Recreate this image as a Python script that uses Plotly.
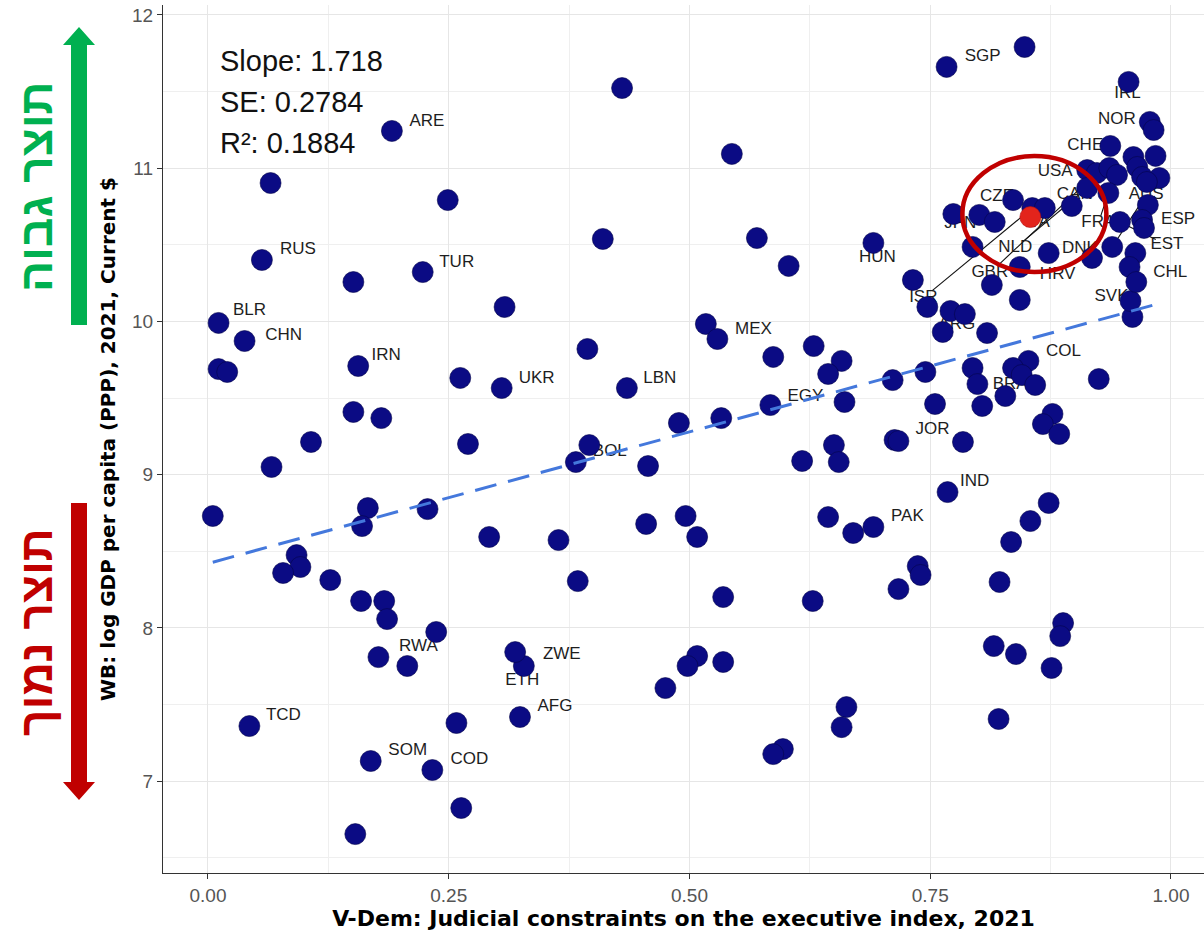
import math
import plotly.graph_objects as go

# ---------------------------------------------------------------------------
# Data: judicial constraints index (V-Dem) vs log GDP per capita (WB), 2021
# (unlabelled countries carry an empty code)
# ---------------------------------------------------------------------------
country = [
    "ARE", "", "", "RUS", "", "TUR", "", "BLR", "CHN", "",        # 0-9
    "", "IRN", "", "UKR", "", "", "", "", "", "",                 # 10-19
    "", "", "", "", "", "", "BOL", "", "", "",                    # 20-29
    "", "", "", "", "", "", "", "RWA", "", "ZWE",                 # 30-39
    "ETH", "TCD", "AFG", "", "SOM", "COD", "", "", "", "",        # 40-49
    "", "", "", "HUN", "", "", "MEX", "", "", "",                 # 50-59
    "", "LBN", "", "", "EGY", "", "", "", "", "",                 # 60-69
    "", "", "", "", "", "JOR", "", "", "", "",                    # 70-79
    "IND", "", "", "", "", "", "", "", "PAK", "",                 # 80-89
    "", "", "", "", "", "", "", "", "", "",                       # 90-99
    "", "", "", "", "", "", "", "", "", "",                       # 100-109
    "", "", "ARG", "", "", "SVK", "COL", "", "", "BRA",           # 110-119
    "", "", "", "", "", "SGP", "", "IRL", "NOR", "",              # 120-129
    "CHE", "", "", "USA", "GBR", "", "", "", "", "",              # 130-139
    "", "NLD", "FRA", "CAN", "", "EST", "ESP", "", "AUS", "DNK",  # 140-149
    "", "", "CHL", "CZE", "ISR", "", "ITA", "JPN", "", "",        # 150-159
    "", "HRV", "", "", "",                                        # 160-164
]

judicial = [
    0.191, 0.065, 0.249, 0.056, 0.151, 0.223, 0.308, 0.011, 0.038, 0.011,
    0.020, 0.156, 0.262, 0.305, 0.151, 0.180, 0.107, 0.270, 0.066, 0.005,
    0.166, 0.160, 0.228, 0.292, 0.364, 0.455, 0.382, 0.457, 0.092, 0.096,
    0.078, 0.127, 0.384, 0.159, 0.183, 0.186, 0.237, 0.177, 0.207, 0.328,
    0.319, 0.043, 0.324, 0.258, 0.169, 0.233, 0.263, 0.153, 0.430, 0.544,
    0.410, 0.570, 0.603, 0.691, 0.394, 0.517, 0.529, 0.587, 0.629, 0.658,
    0.644, 0.435, 0.489, 0.533, 0.584, 0.661, 0.711, 0.396, 0.617, 0.650,
    0.655, 0.713, 0.755, 0.804, 0.828, 0.717, 0.784, 0.877, 0.867, 0.884,
    0.768, 0.873, 0.854, 0.834, 0.496, 0.508, 0.644, 0.670, 0.691, 0.737,
    0.740, 0.717, 0.822, 0.535, 0.628, 0.888, 0.885, 0.816, 0.839, 0.876,
    0.508, 0.498, 0.535, 0.475, 0.663, 0.658, 0.821, 0.597, 0.587, 0.747,
    0.771, 0.786, 0.763, 0.809, 0.960, 0.958, 0.852, 0.836, 0.845, 0.859,
    0.794, 0.799, 0.745, 0.925, 0.732, 0.767, 0.848, 0.956, 0.978, 0.982,
    0.937, 0.961, 0.984, 0.913, 0.923, 0.936, 0.944, 0.965, 0.970, 0.988,
    0.975, 0.913, 0.935, 0.897, 0.976, 0.947, 0.970, 0.972, 0.939, 0.918,
    0.963, 0.957, 0.964, 0.836, 0.856, 0.869, 0.854, 0.774, 0.801, 0.817,
    0.794, 0.873, 0.843, 0.814, 0.843,
]

log_gdp = [
    11.243, 10.903, 10.792, 10.401, 10.257, 10.322, 10.094, 9.990, 9.872, 9.689,
    9.670, 9.709, 9.631, 9.565, 9.409, 9.369, 9.213, 9.200, 9.050, 8.730,
    8.782, 8.664, 8.775, 8.593, 8.573, 8.678, 9.082, 9.056, 8.475, 8.397,
    8.358, 8.312, 8.305, 8.175, 8.175, 8.057, 7.973, 7.809, 7.751, 7.751,
    7.842, 7.359, 7.418, 7.379, 7.131, 7.072, 6.824, 6.654, 11.523, 11.093,
    10.538, 10.544, 10.362, 10.512, 9.820, 9.983, 9.885, 9.768, 9.839, 9.742,
    9.657, 9.565, 9.337, 9.369, 9.454, 9.474, 9.617, 9.193, 9.089, 9.193,
    9.082, 9.226, 9.461, 9.448, 9.513, 9.219, 9.213, 9.396, 9.330, 9.265,
    8.886, 8.815, 8.697, 8.560, 8.730, 8.593, 8.723, 8.619, 8.658, 8.403,
    8.345, 8.253, 8.299, 8.201, 8.175, 8.031, 7.946, 7.881, 7.829, 7.738,
    7.816, 7.751, 7.777, 7.607, 7.483, 7.352, 7.405, 7.209, 7.176, 10.094,
    10.068, 10.048, 9.931, 9.924, 10.029, 10.133, 9.742, 9.696, 9.650, 9.585,
    9.696, 9.591, 9.670, 9.624, 10.270, 11.661, 11.791, 11.563, 11.302, 11.249,
    11.145, 11.073, 11.080, 10.988, 10.969, 11.001, 10.956, 11.008, 10.943, 10.936,
    10.910, 10.871, 10.838, 10.753, 10.760, 10.649, 10.662, 10.610, 10.486, 10.414,
    10.446, 10.355, 10.257, 10.792, 10.740, 10.740, 10.681, 10.701, 10.695, 10.649,
    10.486, 10.446, 10.355, 10.238, 10.140,
]

highlight = "ITA"

# OLS summary shown on the chart
slope = 1.718
se = 0.2784
r2 = 0.1884
intercept = 8.42

# ---------------------------------------------------------------------------
# Layout geometry
# ---------------------------------------------------------------------------
W, H = 1204, 932
M_L, M_R, M_T, M_B = 163, 0, 5, 59
X_RANGE = [-0.0467, 1.0343]
Y_RANGE = [6.40, 12.065]
PLOT_W = W - M_L - M_R
PLOT_H = H - M_T - M_B
SX = PLOT_W / (X_RANGE[1] - X_RANGE[0])
SY = PLOT_H / (Y_RANGE[1] - Y_RANGE[0])

FONT = "Liberation Sans, Arial, DejaVu Sans, sans-serif"
WIDE_BOLD = "DejaVu Sans, Liberation Sans, sans-serif"
LABEL_SIZE = 17
MARKER_SIZE = 21

# label placement relative to its point, in pixels (right, up)
label_nudge = {
    "SGP": (36, 10), "ARE": (35, 9), "RUS": (36, 10), "TUR": (34, 9),
    "BLR": (31, 12), "CHN": (39, 5), "IRN": (28, 10), "UKR": (35, 9),
    "LBN": (33, 9), "MEX": (36, 9), "EGY": (35, 8), "BOL": (34, 10),
    "HUN": (4, -15), "JOR": (34, 11), "IND": (27, 10), "PAK": (34, 10),
    "COL": (35, 9), "BRA": (-25, 0), "ARG": (14, 7), "ZWE": (38, 11),
    "ETH": (7, -29), "AFG": (35, 10), "TCD": (34, 10), "SOM": (37, 10),
    "COD": (37, 10), "RWA": (40, 10), "ISR": (-109, -90), "JPN": (7, -10),
    "CZE": (-16, 3), "ITA": (7, -6), "HRV": (9, -22), "NLD": (-72, -60),
    "GBR": (-107, -100), "CAN": (3, 11), "USA": (-32, -2), "CHE": (-25, 0),
    "NOR": (-33, 2), "IRL": (-1, -12), "FRA": (-10, -30), "EST": (47, -23),
    "ESP": (36, 0), "AUS": (34, 52), "DNK": (-12, 9), "SVK": (-19, 4),
    "CHL": (34, 9),
}
# labels pushed far enough from their point to get a connecting segment
with_segment = {"ISR", "NLD", "GBR", "FRA", "EST", "AUS"}


def to_px(x, y):
    return M_L + (x - X_RANGE[0]) * SX, M_T + (Y_RANGE[1] - y) * SY


def to_data(px, py):
    return X_RANGE[0] + (px - M_L) / SX, Y_RANGE[1] - (py - M_T) / SY


def to_paper(px, py):
    return (px - M_L) / PLOT_W, (H - M_B - py) / PLOT_H


# label positions and leader segments
lab_x, lab_y, lab_t = [], [], []
seg_x, seg_y = [], []
for code, x, y in zip(country, judicial, log_gdp):
    if not code:
        continue
    dx, dy = label_nudge[code]
    px, py = to_px(x, y)
    lx, ly = px + dx, py - dy
    tx, ty = to_data(lx, ly)
    lab_x.append(tx)
    lab_y.append(ty)
    lab_t.append(code)
    if code in with_segment:
        vx, vy = px - lx, py - ly
        dist = math.hypot(vx, vy)
        hw = 0.36 * LABEL_SIZE * len(code) / 2 + 2
        hh = 0.42 * LABEL_SIZE
        t = min(hw / abs(vx) if vx else 1e9, hh / abs(vy) if vy else 1e9)
        sx_, sy_ = lx + vx * t, ly + vy * t
        r = MARKER_SIZE / 2 - 1
        ex, ey = px - vx / dist * r, py - vy / dist * r
        a = to_data(sx_, sy_)
        b = to_data(ex, ey)
        seg_x += [a[0], b[0], None]
        seg_y += [a[1], b[1], None]

base_x = [x for c, x in zip(country, judicial) if c != highlight]
base_y = [y for c, y in zip(country, log_gdp) if c != highlight]
hi_x = [x for c, x in zip(country, judicial) if c == highlight]
hi_y = [y for c, y in zip(country, log_gdp) if c == highlight]

fit_x = [min(judicial), max(judicial)]
fit_y = [intercept + slope * v for v in fit_x]

fig = go.Figure()

fig.add_trace(go.Scatter(
    x=seg_x, y=seg_y, mode="lines",
    line=dict(color="#111111", width=1.1), hoverinfo="skip",
))
fig.add_trace(go.Scatter(
    x=lab_x, y=lab_y, text=lab_t, mode="text",
    textposition="middle center",
    textfont=dict(family=FONT, size=LABEL_SIZE, color="#1e1e1e"),
    hoverinfo="skip", cliponaxis=False,
))
fig.add_trace(go.Scatter(
    x=base_x, y=base_y, mode="markers",
    marker=dict(size=MARKER_SIZE, color="#0b0b84",
                line=dict(color="#05054a", width=0.6)),
))
fig.add_trace(go.Scatter(
    x=hi_x, y=hi_y, mode="markers",
    marker=dict(size=MARKER_SIZE, color="#e3241c",
                line=dict(color="#b01010", width=0.6)),
))
fig.add_trace(go.Scatter(
    x=fit_x, y=fit_y, mode="lines",
    line=dict(color="#4478dc", width=3, dash="22px,12px"),
    hoverinfo="skip",
))

grid_major = "#e6e6e6"
grid_minor = "#efefef"
axis_common = dict(
    showline=True, linecolor="#333333", linewidth=1.3,
    ticks="outside", ticklen=5, tickcolor="#333333", tickwidth=1.2,
    showgrid=True, gridcolor=grid_major, gridwidth=1.3,
    zeroline=False,
    tickfont=dict(family=FONT, size=19, color="#555555"),
)

fig.update_xaxes(
    range=X_RANGE, tickvals=[0, 0.25, 0.5, 0.75, 1.0],
    ticktext=["0.00", "0.25", "0.50", "0.75", "1.00"],
    minor=dict(tickvals=[0.125, 0.375, 0.625, 0.875], showgrid=True,
               gridcolor=grid_minor, gridwidth=0.8, ticks=""),
    title=dict(text="<b>V-Dem: Judicial constraints on the executive index, 2021</b>",
               font=dict(family=WIDE_BOLD, size=22, color="#000000"), standoff=1),
    **axis_common,
)
fig.update_yaxes(
    range=Y_RANGE, tickvals=[7, 8, 9, 10, 11, 12],
    minor=dict(tickvals=[6.5, 7.5, 8.5, 9.5, 10.5, 11.5], showgrid=True,
               gridcolor=grid_minor, gridwidth=0.8, ticks=""),
    title=dict(text="<b>WB: log GDP per capita (PPP), 2021, Current $</b>",
               font=dict(family=WIDE_BOLD, size=20, color="#000000"), standoff=10),
    **axis_common,
)

annotations = []
# regression summary block
for i, line in enumerate([f"Slope: {slope}", f"SE: {se}", f"R²: {r2}"]):
    xp, yp = to_paper(218, 61 + 41 * i)
    annotations.append(dict(
        xref="paper", yref="paper", x=xp, y=yp, xanchor="left", yanchor="middle",
        text=line, showarrow=False,
        font=dict(family=FONT, size=29, color="#111111"),
    ))

# side captions (high / low output)
for text, color, cy in [("תוצר גבוה", "#00b050", 187), ("תוצר נמוך", "#c00000", 632)]:
    xp, yp = to_paper(36, cy)
    annotations.append(dict(
        xref="paper", yref="paper", x=xp, y=yp, xanchor="center", yanchor="middle",
        text=f"<b>{text}</b>", showarrow=False, textangle=-90,
        font=dict(family=FONT, size=46, color=color),
    ))


def arrow_path(cx, tail, tip, shaft_hw=8, head_hw=16, head_len=18):
    """Polygon for a vertical block arrow, in paper coordinates."""
    d = 1 if tip > tail else -1
    base = tip - d * head_len
    pts = [(cx - shaft_hw, tail), (cx - shaft_hw, base), (cx - head_hw, base),
           (cx, tip), (cx + head_hw, base), (cx + shaft_hw, base),
           (cx + shaft_hw, tail)]
    pp = [to_paper(px, py) for px, py in pts]
    return "M " + " L ".join(f"{a:.5f},{b:.5f}" for a, b in pp) + " Z"


shapes = [
    dict(type="path", xref="paper", yref="paper",
         path=arrow_path(79, 325, 27), fillcolor="#00b050", line=dict(width=0)),
    dict(type="path", xref="paper", yref="paper",
         path=arrow_path(79, 503, 800), fillcolor="#c00000", line=dict(width=0)),
]

# highlight ring around the cluster containing the highlighted country
cx_px, cy_px = to_px(hi_x[0], hi_y[0])
ring_c = to_data(cx_px + 4, cy_px - 3)
ring_rx, ring_ry = 72 / SX, 58 / SY
shapes.append(dict(
    type="circle", xref="x", yref="y",
    x0=ring_c[0] - ring_rx, x1=ring_c[0] + ring_rx,
    y0=ring_c[1] - ring_ry, y1=ring_c[1] + ring_ry,
    line=dict(color="#c00000", width=4.5),
))

fig.update_layout(
    width=W, height=H,
    margin=dict(l=M_L, r=M_R, t=M_T, b=M_B, autoexpand=False),
    paper_bgcolor="white", plot_bgcolor="white",
    showlegend=False,
    annotations=annotations,
    shapes=shapes,
    font=dict(family=FONT),
)

fig.write_html("out.html")
